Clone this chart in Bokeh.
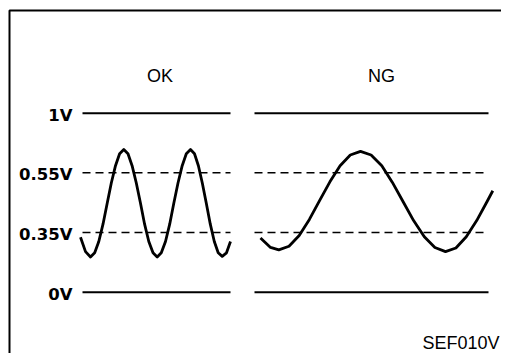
from bokeh.plotting import figure
from bokeh.models import Range1d
from bokeh.core.properties import value
from bokeh.embed import file_html
from bokeh.resources import INLINE

# Voltage reference levels (drawn at equal schematic spacing, index 0..3)
levels = ["0V", "0.35V", "0.55V", "1V"]
level_solid = [True, False, False, True]
panel_titles = ["OK", "NG"]

# OK waveform (time units ~ px, value in level units)
ok_x = [80, 85, 90, 94.2, 98.3, 102.5, 106.7, 110.8, 115, 119.1, 123.3,
        127.5, 131.6, 135.8, 140, 144.1, 148.3, 152.5, 156.7,
        160.8, 165, 169.2, 173.3, 177.5, 181.7, 185.8, 190,
        194, 197.9, 201.8, 205.8, 209.8, 213.8, 217.7, 221.7, 226, 230]
ok_y = [0.92, 0.68, 0.59, 0.66, 0.85, 1.14, 1.49, 1.83, 2.12, 2.32, 2.39,
        2.32, 2.12, 1.83, 1.49, 1.14, 0.85, 0.66, 0.59,
        0.66, 0.85, 1.14, 1.49, 1.83, 2.12, 2.32, 2.39,
        2.32, 2.12, 1.83, 1.49, 1.14, 0.85, 0.66, 0.60, 0.66, 0.85]

# NG waveform
ng_x = [260, 270, 278.3, 288.5, 298.7, 308.9, 319.2, 329.4, 339.6, 349.8, 360,
        370.6, 381.3, 391.9, 402.5, 413.1, 423.8, 434.4, 445,
        455.4, 465.8, 476.2, 486.6, 492.3]
ng_y = [0.91, 0.75, 0.71, 0.77, 0.95, 1.22, 1.54, 1.85, 2.12, 2.30, 2.36,
        2.30, 2.12, 1.84, 1.52, 1.20, 0.93, 0.75, 0.68,
        0.74, 0.93, 1.20, 1.52, 1.70]

code_label = "SEF010V"


def py(pix_y):
    return (291.7 - pix_y) / 59.67


W, H = 501, 353
p = figure(width=W, height=H, x_range=Range1d(0, W),
           y_range=Range1d(py(H), py(0)),
           output_backend="svg", toolbar_location=None, min_border=0,
           x_axis_location=None, y_axis_location=None)
p.outline_line_color = None
p.grid.visible = False
p.background_fill_color = "white"
p.border_fill_color = "white"

# frame of the figure (top and left edges)
p.line([9, 9, W], [py(H), py(10), py(10)], line_color="black", line_width=2)

panels = [(82, 230), (254, 488)]
for i, lab in enumerate(levels):
    for (x0, x1) in panels:
        if level_solid[i]:
            p.line([x0, x1], [i, i], line_color="black", line_width=2)
        else:
            p.line([x0, x1], [i, i], line_color="black", line_width=1.5,
                   line_dash="8 5")

p.line(ok_x, ok_y, line_color="black", line_width=2.8, line_join="round")
p.line(ng_x, ng_y, line_color="black", line_width=2.8, line_join="round")

p.text(x=[72] * len(levels), y=list(range(len(levels))), text=levels,
       text_align="right", text_baseline="middle", y_offset=2,
       text_font=value("DejaVu Sans"), text_font_style="bold",
       text_font_size="16.5px", text_color="black")

p.text(x=[159.5, 381], y=[py(75)] * 2, text=panel_titles,
       text_align="center", text_baseline="middle",
       text_font=value("Liberation Sans"), text_font_size="18px",
       text_color="black")

p.text(x=[499], y=[py(342)], text=[code_label],
       text_align="right", text_baseline="middle",
       text_font=value("Liberation Sans"), text_font_size="18px",
       text_color="black")

open("out.html", "w").write(file_html(p, INLINE))
